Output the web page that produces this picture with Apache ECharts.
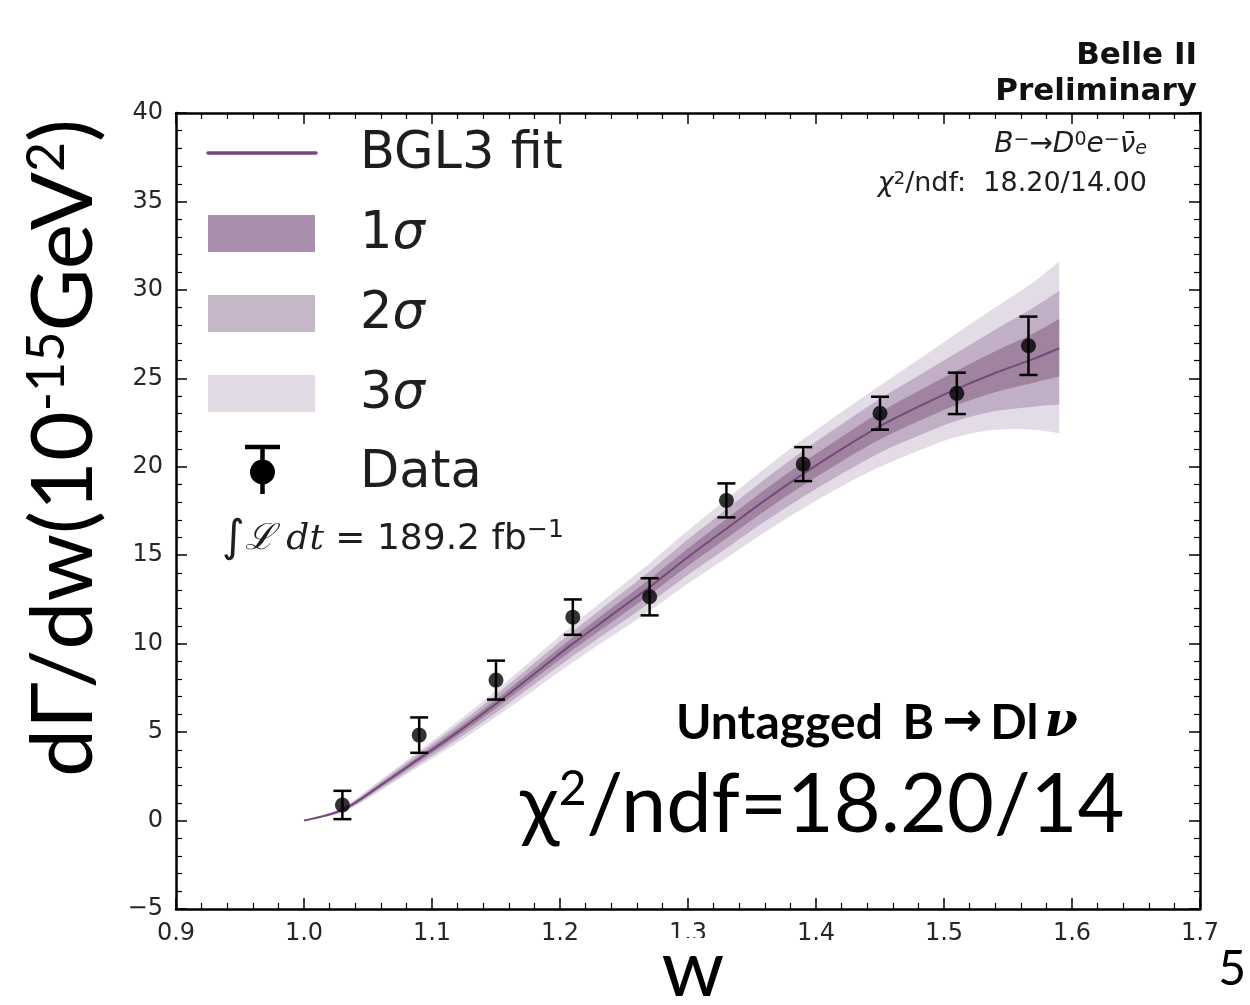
<!DOCTYPE html>
<html>
<head>
<meta charset="utf-8">
<script src="https://cdn.jsdelivr.net/npm/echarts@6/dist/echarts.min.js"></script>
<style>
  html, body { margin: 0; padding: 0; background: #ffffff; }
  #chart { width: 1250px; height: 1005px; }
</style>
</head>
<body>
<div id="chart"></div>
<script>
// ---- tick labels ----
const xTickLabels = ['0.9', '1.0', '1.1', '1.2', '1.3', '1.4', '1.5', '1.6', '1.7'];
const yTickLabels = ['\u22125', '0', '5', '10', '15', '20', '25', '30', '35', '40'];

// ---- measured differential rate, B- -> D0 e- nu ----
const wBins   = [1.03, 1.09, 1.15, 1.21, 1.27, 1.33, 1.39, 1.45, 1.51, 1.566];
const rate    = [0.88, 4.83, 7.94, 11.50, 12.65, 18.10, 20.15, 23.03, 24.15, 26.84];
const rateErr = [0.80, 1.00, 1.10, 1.00, 1.05, 0.96, 0.96, 0.93, 1.17, 1.65];

// ---- BGL3 fit: central curve and 1/2/3 sigma bands (upper / lower half widths) ----
const fitW       = [1.00, 1.03, 1.06, 1.09, 1.12, 1.15, 1.18, 1.21, 1.24, 1.27, 1.30, 1.33, 1.36, 1.39, 1.42, 1.45, 1.48, 1.51, 1.54, 1.57, 1.59];
const fitCentral = [0.0, 0.6, 2.0, 3.5, 5.0, 6.6, 8.3, 10.0, 11.6, 13.2, 14.9, 16.5, 18.1, 19.6, 21.0, 22.3, 23.4, 24.4, 25.3, 26.1, 26.7];
const sig1Up = [0, 0.05, 0.10, 0.15, 0.20, 0.25, 0.30, 0.35, 0.40, 0.45, 0.50, 0.55, 0.60, 0.65, 0.70, 0.78, 0.88, 1.03, 1.23, 1.45, 1.65];
const sig1Dn = [0, 0.05, 0.10, 0.15, 0.20, 0.25, 0.30, 0.35, 0.40, 0.45, 0.50, 0.55, 0.60, 0.65, 0.70, 0.75, 0.83, 0.90, 1.08, 1.35, 1.60];
const sig2Up = [0, 0.10, 0.20, 0.30, 0.40, 0.50, 0.60, 0.70, 0.80, 0.90, 1.00, 1.10, 1.20, 1.30, 1.40, 1.55, 1.75, 2.05, 2.45, 2.90, 3.25];
const sig2Dn = [0, 0.10, 0.20, 0.30, 0.40, 0.50, 0.60, 0.70, 0.80, 0.90, 1.00, 1.10, 1.20, 1.30, 1.40, 1.50, 1.65, 1.80, 2.15, 2.70, 3.20];
const sig3Up = [0, 0.15, 0.30, 0.45, 0.60, 0.75, 0.90, 1.05, 1.20, 1.35, 1.50, 1.65, 1.80, 1.95, 2.10, 2.30, 2.65, 3.15, 3.70, 4.35, 4.90];
const sig3Dn = [0, 0.15, 0.30, 0.45, 0.60, 0.75, 0.90, 1.05, 1.20, 1.35, 1.50, 1.65, 1.80, 1.95, 2.10, 2.30, 2.50, 2.70, 3.20, 4.00, 4.80];

// ---- colours ----
const fitColor = '#74497c';
// bands as they appear where they overlap in the plot
const band1Color = '#a0849f';
const band2Color = '#c1b0c5';
const band3Color = '#e3dbe5';
// single-layer swatches in the legend
const key1Color = '#a890ac';
const key2Color = '#c6b8c9';
const key3Color = '#e2dae4';
const textColor = '#1e1e1e';

const chart = echarts.init(document.getElementById('chart'), null, { renderer: 'canvas' });

// smooth path through pixel points (Catmull-Rom as cubic Beziers)
function splineSegments(pts) {
  let d = '';
  for (let i = 0; i < pts.length - 1; i++) {
    const p0 = pts[Math.max(i - 1, 0)], p1 = pts[i], p2 = pts[i + 1], p3 = pts[Math.min(i + 2, pts.length - 1)];
    const c1x = p1[0] + (p2[0] - p0[0]) / 6, c1y = p1[1] + (p2[1] - p0[1]) / 6;
    const c2x = p2[0] - (p3[0] - p1[0]) / 6, c2y = p2[1] - (p3[1] - p1[1]) / 6;
    d += ' C' + c1x + ',' + c1y + ' ' + c2x + ',' + c2y + ' ' + p2[0] + ',' + p2[1];
  }
  return d;
}

// filled band between central - dn and central + up, drawn as one closed path
function bandSeries(name, up, dn, color) {
  const lower = fitCentral.map((c, i) => c - dn[i]);
  const upper = fitCentral.map((c, i) => c + up[i]);
  return {
    name: name, type: 'custom', silent: true,
    data: fitW.map((w, i) => [w, lower[i], upper[i]]),
    encode: { x: 0, y: [1, 2] },
    renderItem: function (params, api) {
      if (params.dataIndex !== 0) return null;
      const top = fitW.map((w, i) => api.coord([w, upper[i]]));
      const bot = fitW.map((w, i) => api.coord([w, lower[i]])).reverse();
      const d = 'M' + top[0][0] + ',' + top[0][1] + splineSegments(top) +
        ' L' + bot[0][0] + ',' + bot[0][1] + splineSegments(bot) + ' Z';
      return { type: 'path', shape: { pathData: d }, style: { fill: color, stroke: null } };
    },
    z: 2
  };
}

const axisCommon = {
  type: 'value',
  axisLine: { show: true, onZero: false, lineStyle: { color: '#000', width: 2.5 } },
  axisTick: { show: true, inside: true, length: 11, lineStyle: { color: '#000', width: 1.5 } },
  minorTick: { show: true, splitNumber: 5, length: 6, lineStyle: { color: '#000', width: 1.2 } },
  splitLine: { show: false },
  minorSplitLine: { show: false }
};

const tickFont = { fontFamily: 'DejaVu Sans', fontSize: 24, color: '#262626' };

const option = {
  animation: false,
  backgroundColor: '#ffffff',
  grid: { left: 176, top: 113, width: 1024, height: 796, containLabel: false },
  xAxis: [
    Object.assign({}, axisCommon, {
      position: 'bottom', min: 0.9, max: 1.7, interval: 0.1,
      axisLabel: Object.assign({ margin: 13, showMinLabel: true, showMaxLabel: true,
        formatter: v => xTickLabels[Math.round((v - 0.9) / 0.1)] }, tickFont)
    }),
    Object.assign({}, axisCommon, {
      position: 'top', min: 0.9, max: 1.7, interval: 0.1,
      axisLabel: { show: false }
    })
  ],
  yAxis: [
    Object.assign({}, axisCommon, {
      position: 'left', min: -5, max: 40, interval: 5,
      axisLabel: Object.assign({ margin: 13, showMinLabel: true, showMaxLabel: true,
        formatter: v => yTickLabels[Math.round((v + 5) / 5)] }, tickFont)
    }),
    Object.assign({}, axisCommon, {
      position: 'right', min: -5, max: 40, interval: 5,
      axisLabel: { show: false }
    })
  ],
  series: [
    bandSeries('3\u03c3', sig3Up, sig3Dn, band3Color),
    bandSeries('2\u03c3', sig2Up, sig2Dn, band2Color),
    bandSeries('1\u03c3', sig1Up, sig1Dn, band1Color),
    {
      name: 'BGL3 fit', type: 'line', smooth: 0.3, symbol: 'none', silent: true,
      data: fitW.map((w, i) => [w, fitCentral[i]]),
      lineStyle: { color: fitColor, width: 2 },
      z: 3
    },
    {
      name: 'Data errors', type: 'custom', silent: true,
      data: wBins.map((w, i) => [w, rate[i] - rateErr[i], rate[i] + rateErr[i]]),
      encode: { x: 0, y: [1, 2] },
      renderItem: function (params, api) {
        const lo = api.coord([api.value(0), api.value(1)]);
        const hi = api.coord([api.value(0), api.value(2)]);
        const cap = 9;
        const st = { stroke: '#000', lineWidth: 2.5 };
        return {
          type: 'group',
          children: [
            { type: 'line', shape: { x1: lo[0], y1: lo[1], x2: hi[0], y2: hi[1] }, style: st },
            { type: 'line', shape: { x1: lo[0] - cap, y1: lo[1], x2: lo[0] + cap, y2: lo[1] }, style: st },
            { type: 'line', shape: { x1: hi[0] - cap, y1: hi[1], x2: hi[0] + cap, y2: hi[1] }, style: st }
          ]
        };
      },
      z: 5
    },
    {
      name: 'Data', type: 'scatter', silent: true,
      data: wBins.map((w, i) => [w, rate[i]]),
      symbol: 'circle', symbolSize: 15,
      itemStyle: { color: '#000' },
      z: 6
    }
  ],
  graphic: [
    // legend
    { type: 'line', shape: { x1: 208, y1: 153, x2: 316, y2: 153 },
      style: { stroke: fitColor, lineWidth: 3.5, lineCap: 'round' } },
    { type: 'text', x: 360, y: 155, style: { text: 'BGL3 fit', font: '51px "DejaVu Sans"', fill: textColor, align: 'left', verticalAlign: 'middle' } },
    { type: 'rect', shape: { x: 208, y: 215, width: 107, height: 37 }, style: { fill: key1Color } },
    { type: 'rect', shape: { x: 208, y: 295, width: 107, height: 37 }, style: { fill: key2Color } },
    { type: 'rect', shape: { x: 208, y: 375, width: 107, height: 37 }, style: { fill: key3Color } },
    { type: 'text', x: 360, y: 235, style: { text: '{n|1}{i|σ}', align: 'left', verticalAlign: 'middle',
      rich: { n: { font: '51px "DejaVu Sans"', fill: textColor }, i: { font: 'italic 51px "DejaVu Sans"', fill: textColor } } } },
    { type: 'text', x: 360, y: 315, style: { text: '{n|2}{i|σ}', align: 'left', verticalAlign: 'middle',
      rich: { n: { font: '51px "DejaVu Sans"', fill: textColor }, i: { font: 'italic 51px "DejaVu Sans"', fill: textColor } } } },
    { type: 'text', x: 360, y: 395, style: { text: '{n|3}{i|σ}', align: 'left', verticalAlign: 'middle',
      rich: { n: { font: '51px "DejaVu Sans"', fill: textColor }, i: { font: 'italic 51px "DejaVu Sans"', fill: textColor } } } },
    { type: 'line', shape: { x1: 245, y1: 447, x2: 280, y2: 447 }, style: { stroke: '#000', lineWidth: 4.5 } },
    { type: 'line', shape: { x1: 262.5, y1: 447, x2: 262.5, y2: 494 }, style: { stroke: '#000', lineWidth: 4.5 } },
    { type: 'circle', shape: { cx: 262.5, cy: 472, r: 12.5 }, style: { fill: '#000' } },
    { type: 'text', x: 360, y: 474, style: { text: 'Data', font: '51px "DejaVu Sans"', fill: textColor, align: 'left', verticalAlign: 'middle' } },
    { type: 'text', x: 222, y: 540, style: {
      text: '{int|∫}{it|ℒ dt}{n| = 189.2 fb}{sup|−1}', align: 'left', verticalAlign: 'middle',
      rich: {
        int: { font: '44px "DejaVu Sans"', fill: textColor },
        it: { font: 'italic 36px "DejaVu Serif"', fill: textColor },
        n: { font: '36px "DejaVu Sans"', fill: textColor },
        sup: { font: '25px "DejaVu Sans"', fill: textColor, verticalAlign: 'top' }
      } } },

    // decay channel and fit quality, top right inside the frame
    { type: 'text', x: 1147, y: 145, style: {
      text: '{it|B}{sup|\u2212}{n|\u2192}{it|D}{sup|0}{it|e}{sup|\u2212}{it|\u03bd\u0304}{sub|e}', align: 'right', verticalAlign: 'middle',
      rich: {
        it: { font: 'italic 28px "DejaVu Sans"', fill: textColor },
        n: { font: '28px "DejaVu Sans"', fill: textColor },
        sup: { font: '19px "DejaVu Sans"', fill: textColor, verticalAlign: 'top' },
        sub: { font: 'italic 19px "DejaVu Sans"', fill: textColor, verticalAlign: 'bottom' }
      } } },
    { type: 'text', x: 1147, y: 184, style: {
      text: '{it|χ}{sup|2}{n|/ndf:  18.20/14.00}', align: 'right', verticalAlign: 'middle',
      rich: {
        it: { font: 'italic 27px "DejaVu Sans"', fill: textColor },
        n: { font: '27px "DejaVu Sans"', fill: textColor },
        sup: { font: '18px "DejaVu Sans"', fill: textColor, verticalAlign: 'top' }
      } } },

    // experiment label
    { type: 'text', x: 1197, y: 56, style: { text: 'Belle II', font: 'bold 31px "DejaVu Sans"', fill: '#111', align: 'right', verticalAlign: 'middle' } },
    { type: 'text', x: 1197, y: 92, style: { text: 'Preliminary', font: 'bold 31px "DejaVu Sans"', fill: '#111', align: 'right', verticalAlign: 'middle' } },

    // slide annotations
    { type: 'text', x: 676, y: 724, style: {
      text: '{b|Untagged}{gap| }{b|B}{arr|\u2192}{b|Dl}{nu|\u03bd}', align: 'left', verticalAlign: 'middle',
      rich: {
        b: { font: 'bold 48px Lato', fill: '#000' },
        gap: { font: 'bold 48px Lato', fill: '#000', padding: [0, 4, 0, 4] },
        arr: { font: 'bold 48px "DejaVu Sans"', fill: '#000', padding: [0, 8, 0, 8] },
        nu: { font: 'bold italic 48px "DejaVu Serif"', fill: '#000', padding: [0, 0, 0, 6] }
      } } },
    { type: 'text', x: 520, y: 806, style: {
      text: '{n|χ}{sup|2}{n|/ndf=18.20/14}', align: 'left', verticalAlign: 'middle',
      rich: {
        n: { font: '81px Lato', fill: '#000' },
        sup: { font: '48px Lato', fill: '#000', verticalAlign: 'top' }
      } } },

    // axis titles; the box behind the w sits over the lower part of the 1.3 label
    { type: 'rect', z: 100, shape: { x: 655, y: 938, width: 80, height: 67 }, style: { fill: '#ffffff' } },
    { type: 'text', z: 101, x: 693, y: 970, style: { text: 'w', font: '80px Lato', fill: '#000', align: 'center', verticalAlign: 'middle' } },
    { type: 'text', x: 64, y: 448, rotation: Math.PI / 2, style: {
      text: '{n|dΓ/dw(10}{sup|-15}{n|GeV}{sup|2}{n|)}', align: 'center', verticalAlign: 'middle',
      rich: {
        n: { font: '86px Lato', fill: '#000' },
        sup: { font: '52px Lato', fill: '#000', verticalAlign: 'top' }
      } } },

    // page number
    { type: 'text', x: 1246, y: 970, style: { text: '5', font: '48px Lato', fill: '#000', align: 'right', verticalAlign: 'middle' } }
  ]
};

chart.setOption(option);
</script>
</body>
</html>
